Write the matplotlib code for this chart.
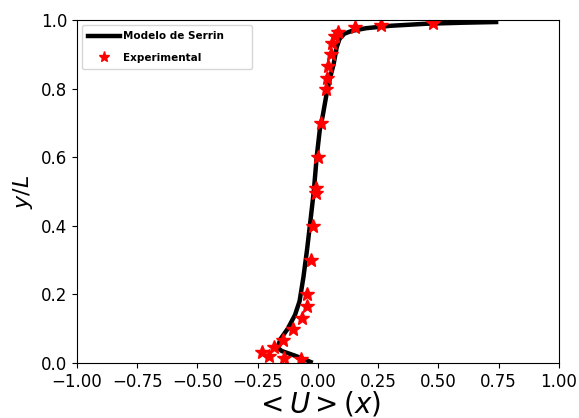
import matplotlib
matplotlib.use("Agg")
import matplotlib.pyplot as plt

# Modelo de Serrin (curve)
serrin_u = [-0.03, -0.09, -0.15, -0.168, -0.155, -0.125, -0.095, -0.076, -0.06, -0.045,
            -0.03, -0.017, -0.005, 0.008, 0.02, 0.035, 0.05, 0.065, 0.078, 0.09,
            0.11, 0.14, 0.2, 0.3, 0.45, 0.6, 0.74]
serrin_y = [0.003, 0.02, 0.035, 0.045, 0.07, 0.10, 0.14, 0.18, 0.25, 0.33,
            0.42, 0.5, 0.6, 0.68, 0.72, 0.78, 0.83, 0.87, 0.92, 0.945,
            0.96, 0.968, 0.976, 0.983, 0.989, 0.992, 0.994]

# Experimental points
exp_u = [-0.07, -0.141, -0.203, -0.23, -0.183, -0.144, -0.105, -0.064, -0.047, -0.044,
         -0.029, -0.02, -0.008, -0.008, 0.0, 0.012, 0.032, 0.039, 0.044, 0.054,
         0.06, 0.071, 0.082, 0.156, 0.263, 0.478]
exp_y = [0.011, 0.014, 0.02, 0.033, 0.048, 0.067, 0.099, 0.132, 0.166, 0.20,
         0.30, 0.40, 0.496, 0.51, 0.60, 0.70, 0.799, 0.832, 0.866, 0.90,
         0.932, 0.953, 0.966, 0.98, 0.986, 0.992]

fig = plt.figure(figsize=(5.79, 4.18), dpi=100)
ax = fig.add_axes([0.133, 0.1316, 0.832, 0.8206])

ax.plot(serrin_u, serrin_y, color='black', lw=3.2, label='Modelo de Serrin')
ax.plot(exp_u, exp_y, ls='none', marker='*', color='red', ms=10, label='Experimental')

ax.set_xlim(-1, 1)
ax.set_ylim(0, 1)
ax.set_xticks([-1, -0.75, -0.5, -0.25, 0, 0.25, 0.5, 0.75, 1])
ax.tick_params(labelsize=12)
ax.set_xlabel(r'$<U>(x)$', fontsize=20, labelpad=-1)
ax.set_ylabel(r'$y/L$', fontsize=16)

ax.legend(loc='upper left', bbox_to_anchor=(0, 1, 0.375, 0), mode='expand',
          prop={'weight': 'bold', 'size': 7.5}, handlelength=3.0,
          handletextpad=0.3, labelspacing=1.1, borderpad=0.6, markerscale=0.8)

fig.savefig('out.png', dpi=100)
